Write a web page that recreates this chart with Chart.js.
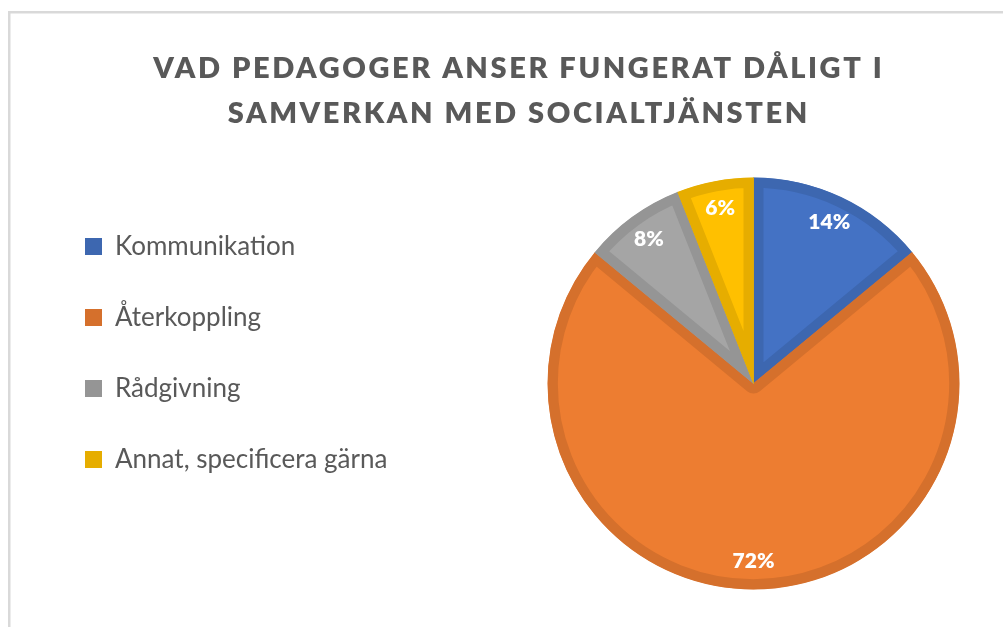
<!DOCTYPE html>
<html>
<head>
<meta charset="utf-8">
<script src="https://cdn.jsdelivr.net/npm/chart.js@4/dist/chart.umd.min.js"></script>
<style>
html,body{margin:0;padding:0;background:#fff;overflow:hidden}
#wrap{position:relative;width:1003px;height:627px}
canvas{display:block}
</style>
</head>
<body>
<div id="wrap"><canvas id="c" width="1003" height="627"></canvas></div>
<script>
const titleLines = ['VAD PEDAGOGER ANSER FUNGERAT DÅLIGT I', 'SAMVERKAN MED SOCIALTJÄNSTEN'];
const categories = ['Kommunikation', 'Återkoppling', 'Rådgivning', 'Annat, specificera gärna'];
const values = [14, 72, 8, 6];
const fillColors = ['#4472C4', '#ED7D31', '#A5A5A5', '#FFC000'];
const borderColors = ['#3D67B0', '#D5702C', '#959595', '#E6AD00'];

const PLOT_CENTER_X = 753.5;

const framePlugin = {
  id: 'frame',
  beforeDraw(chart) {
    const ctx = chart.ctx;
    ctx.save();
    ctx.fillStyle = '#fff';
    ctx.fillRect(0, 0, chart.width, chart.height);
    ctx.strokeStyle = '#d9d9d9';
    ctx.lineWidth = 2.5;
    ctx.beginPath();
    ctx.moveTo(9.25, chart.height);
    ctx.lineTo(9.25, 12.25);
    ctx.lineTo(chart.width, 12.25);
    ctx.stroke();
    ctx.restore();
  }
};

// place the plot area (pie) to the right of the legend, as in the original layout
const plotAreaPlugin = {
  id: 'plotArea',
  afterLayout(chart) {
    const ca = chart.chartArea;
    const w = ca.right - ca.left;
    ca.left = PLOT_CENTER_X - w / 2;
    ca.right = ca.left + w;
  }
};

const titlePlugin = {
  id: 'spacedTitle',
  afterDraw(chart) {
    const ctx = chart.ctx;
    const spacing = 2.6;
    ctx.save();
    ctx.font = '800 29px Lato';
    ctx.fillStyle = '#595959';
    ctx.textAlign = 'center';
    ctx.textBaseline = 'alphabetic';
    ctx.letterSpacing = spacing + 'px';
    titleLines.forEach((t, i) => ctx.fillText(t, 517.5 + spacing / 2, 78 + i * 45));
    ctx.restore();
  }
};

const labelPlugin = {
  id: 'sliceLabels',
  afterDatasetsDraw(chart) {
    const ctx = chart.ctx;
    const meta = chart.getDatasetMeta(0);
    ctx.save();
    ctx.font = '800 21px Lato';
    ctx.fillStyle = '#ffffff';
    ctx.textAlign = 'center';
    ctx.textBaseline = 'middle';
    meta.data.forEach((arc, i) => {
      const p = arc.getProps(['x', 'y', 'startAngle', 'endAngle', 'outerRadius'], true);
      const a = (p.startAngle + p.endAngle) / 2;
      const r = p.outerRadius - 28;
      ctx.fillText(values[i] + '%', p.x + Math.cos(a) * r, p.y + Math.sin(a) * r);
    });
    ctx.restore();
  }
};

new Chart(document.getElementById('c'), {
  type: 'pie',
  data: {
    labels: categories,
    datasets: [{
      data: values,
      backgroundColor: fillColors,
      borderColor: borderColors,
      borderWidth: 10,
      borderAlign: 'inner',
      radius: 206
    }]
  },
  options: {
    responsive: false,
    animation: false,
    events: [],
    layout: { padding: { left: 40, right: 10, top: 188.5, bottom: 48.5 } },
    plugins: {
      title: { display: false },
      tooltip: { enabled: false },
      legend: {
        position: 'left',
        align: 'start',
        labels: {
          font: { family: 'Lato', size: 26 },
          color: '#595959',
          boxWidth: 17,
          boxHeight: 17,
          padding: 45,
          generateLabels() {
            return categories.map((c, i) => ({
              text: c,
              fillStyle: borderColors[i],
              strokeStyle: borderColors[i],
              lineWidth: 0,
              fontColor: '#595959',
              hidden: false,
              index: i
            }));
          }
        }
      }
    }
  },
  plugins: [framePlugin, plotAreaPlugin, titlePlugin, labelPlugin]
});
</script>
</body>
</html>
